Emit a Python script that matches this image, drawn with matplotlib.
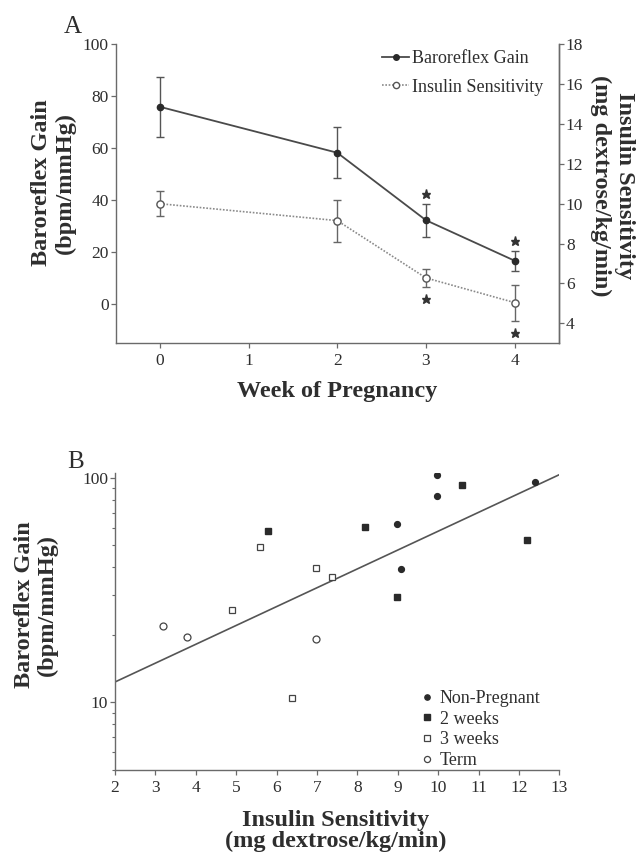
import numpy as np
import matplotlib
matplotlib.use("Agg")
import matplotlib.pyplot as plt
from matplotlib.lines import Line2D
from matplotlib.transforms import offset_copy

plt.rcParams['font.family'] = ['Liberation Serif', 'DejaVu Serif']

# ---- Panel A data: weekly means +/- SEM ----
weeks = [0, 2, 3, 4]
baro_mean = [76.0, 58.3, 32.3, 16.7]
baro_sem = [11.5, 9.8, 6.4, 3.9]
insulin_mean = [10.0, 9.15, 6.27, 5.03]
insulin_sem = [0.62, 1.06, 0.45, 0.90]
baro_significant = [False, False, True, True]
insulin_significant = [False, False, True, True]

# ---- Panel B data: individual animals ----
nonpreg_ins = [9.98, 9.98, 8.98, 9.08, 12.39]
nonpreg_baro = [102.8, 82.9, 62.3, 39.4, 96.0]
wk2_ins = [5.80, 8.18, 8.98, 10.60, 12.20]
wk2_baro = [57.9, 60.4, 29.5, 92.5, 53.0]
wk3_ins = [5.59, 4.90, 6.98, 7.38, 6.39]
wk3_baro = [49.1, 25.9, 39.8, 36.2, 10.5]
term_ins = [3.20, 3.79, 6.98]
term_baro = [21.8, 19.5, 19.2]
# log10(gain) = intercept + slope * insulin sensitivity
fit_intercept = 0.923
fit_slope = 0.0839
fit_range = [2, 13]

W, H = 638, 856
SPINE = '#6a6a6a'
TXT = '#2e2e2e'
DARK = '#2a2a2a'
LABEL_SIZE = 17.5

fig = plt.figure(figsize=(W / 100, H / 100), dpi=100)


def px_axes(left, top, right, bottom):
    return fig.add_axes([left / W, 1 - bottom / H, (right - left) / W, (bottom - top) / H])


def style_ticks(ax):
    ax.tick_params(axis='both', which='major', direction='out', length=3.5,
                   width=0.9, color=SPINE, labelsize=12.5, labelcolor=TXT)
    ax.tick_params(axis='y', pad=1.5)
    ax.tick_params(axis='x', pad=4)
    for s in ax.spines.values():
        s.set_color(SPINE)
        s.set_linewidth(1.0)


# ================= Panel A =================
axA = px_axes(115.5, 44.5, 559, 343)
axA2 = axA.twinx()

axA.errorbar(weeks, baro_mean, yerr=baro_sem, color='#4a4a4a', lw=1.3,
             marker='o', ms=4.5, mfc=DARK, mec=DARK,
             ecolor='#555555', elinewidth=1.0, capsize=2.6, capthick=1.0, zorder=3)
axA2.errorbar(weeks, insulin_mean, yerr=insulin_sem, color='#8a8a8a', lw=1.2,
              ls=(0, (1, 1)), marker='o', ms=5.2, mfc='white', mec='#555555',
              mew=1.0, ecolor='#666666', elinewidth=1.0, capsize=2.6,
              capthick=1.0, zorder=3)

axA.set_xlim(-0.5, 4.5)
axA.set_ylim(-15, 100)
axA2.set_ylim(3, 18)
axA.set_xticks([0, 1, 2, 3, 4])
axA.set_yticks([0, 20, 40, 60, 80, 100])
axA2.set_yticks([4, 6, 8, 10, 12, 14, 16, 18])
axA.spines['top'].set_visible(False)
axA2.spines['top'].set_visible(False)
axA2.spines['left'].set_visible(False)
axA2.spines['bottom'].set_visible(False)
style_ticks(axA)
style_ticks(axA2)

# significance stars just beyond the error bars
above = offset_copy(axA.transData, fig=fig, y=7, units='points')
below = offset_copy(axA2.transData, fig=fig, y=-9, units='points')
for wk, m, e, sig in zip(weeks, baro_mean, baro_sem, baro_significant):
    if sig:
        axA.plot(wk, m + e, marker='*', ms=6.5, color='#333333', mec='#333333',
                 transform=above, clip_on=False, zorder=4)
for wk, m, e, sig in zip(weeks, insulin_mean, insulin_sem, insulin_significant):
    if sig:
        axA2.plot(wk, m - e, marker='*', ms=6.5, color='#333333', mec='#333333',
                  transform=below, clip_on=False, zorder=4)

handles_A = [
    Line2D([], [], color='#4a4a4a', lw=1.3, marker='o', ms=4.0, mfc=DARK, mec=DARK),
    Line2D([], [], color='#8a8a8a', lw=1.2, ls=(0, (1, 1)), marker='o', ms=4.5,
           mfc='white', mec='#555555'),
]
axA.legend(handles_A, ['Baroreflex Gain', 'Insulin Sensitivity'], loc='upper left',
           bbox_to_anchor=(382 / W, 1 - 50 / H), bbox_transform=fig.transFigure,
           frameon=False, fontsize=13, handlelength=1.5, handletextpad=0.15,
           labelspacing=0.65, borderpad=0, borderaxespad=0, labelcolor=TXT)

fig.text(64 / W, 1 - 33 / H, 'A', fontsize=18, color=TXT, va='baseline', ha='left')
fig.text(53.5 / W, 1 - 183 / H, 'Baroreflex Gain\n(bpm/mmHg)', rotation=90,
         ha='center', va='center', fontsize=LABEL_SIZE, fontweight='bold', color=TXT,
         linespacing=1.15)
fig.text(612.5 / W, 1 - 186 / H, 'Insulin Sensitivity\n(mg dextrose/kg/min)', rotation=270,
         ha='center', va='center', fontsize=LABEL_SIZE, fontweight='bold', color=TXT,
         linespacing=1.15)
fig.text(337 / W, 1 - 391 / H, 'Week of Pregnancy', ha='center', va='center',
         fontsize=LABEL_SIZE, fontweight='bold', color=TXT)

# ================= Panel B =================
axB = px_axes(115, 473, 559.3, 770)
axB.set_yscale('log')

axB.plot(nonpreg_ins, nonpreg_baro, ls='none', marker='o', ms=4.2, mfc=DARK, mec=DARK, zorder=3)
axB.plot(wk2_ins, wk2_baro, ls='none', marker='s', ms=4.2, mfc=DARK, mec=DARK, zorder=3)
axB.plot(wk3_ins, wk3_baro, ls='none', marker='s', ms=5.0, mfc='white', mec='#444444',
         mew=0.9, zorder=3)
axB.plot(term_ins, term_baro, ls='none', marker='o', ms=5.0, mfc='white', mec='#444444',
         mew=0.9, zorder=3)

fit_x = np.array(fit_range, dtype=float)
axB.plot(fit_x, 10 ** (fit_intercept + fit_slope * fit_x), color='#555555', lw=1.2, zorder=2)

axB.set_xlim(2, 13)
axB.set_ylim(5, 105)
axB.set_xticks(range(2, 14))
axB.set_yticks([10, 100])
axB.set_yticklabels(['10', '100'])
axB.yaxis.set_minor_locator(matplotlib.ticker.LogLocator(base=10, subs=np.arange(2, 10)))
axB.yaxis.set_minor_formatter(matplotlib.ticker.NullFormatter())
axB.spines['top'].set_visible(False)
axB.spines['right'].set_visible(False)
style_ticks(axB)
axB.tick_params(axis='y', which='minor', direction='out', length=2, width=0.8, color=SPINE)

handles_B = [
    Line2D([], [], ls='none', marker='o', ms=3.8, mfc=DARK, mec=DARK),
    Line2D([], [], ls='none', marker='s', ms=3.8, mfc=DARK, mec=DARK),
    Line2D([], [], ls='none', marker='s', ms=4.4, mfc='white', mec='#444444', mew=0.9),
    Line2D([], [], ls='none', marker='o', ms=4.4, mfc='white', mec='#444444', mew=0.9),
]
axB.legend(handles_B, ['Non-Pregnant', '2 weeks', '3 weeks', 'Term'], loc='upper left',
           bbox_to_anchor=(420 / W, 1 - 690 / H), bbox_transform=fig.transFigure,
           frameon=False, fontsize=13, handlelength=0.8, handletextpad=0.3,
           labelspacing=0.2, borderpad=0, borderaxespad=0, labelcolor=TXT)

fig.text(67 / W, 1 - 468 / H, 'B', fontsize=18, color=TXT, va='baseline', ha='left')
fig.text(36 / W, 1 - 605 / H, 'Baroreflex Gain\n(bpm/mmHg)', rotation=90,
         ha='center', va='center', fontsize=LABEL_SIZE, fontweight='bold', color=TXT,
         linespacing=1.15)
fig.text(336 / W, 1 - 831 / H, 'Insulin Sensitivity\n(mg dextrose/kg/min)',
         ha='center', va='center', fontsize=LABEL_SIZE, fontweight='bold', color=TXT,
         linespacing=1.0)

fig.savefig('out.png', dpi=100, facecolor='white')
